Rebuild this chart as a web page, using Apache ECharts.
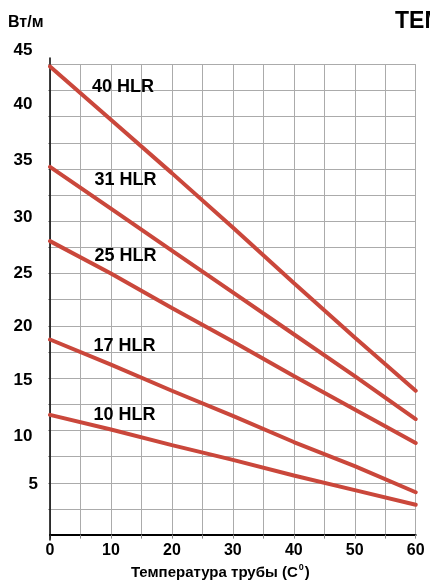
<!DOCTYPE html>
<html><head><meta charset="utf-8">
<script src="https://cdn.jsdelivr.net/npm/echarts@6/dist/echarts.min.js"></script>
<style>html,body{margin:0;padding:0;background:#fff}#c{width:430px;height:585px}</style>
</head><body><div id="c"></div>
<script>
// ---- data ----
const temps = [0, 10, 20, 30, 40, 50, 60];
const hlr40 = [44.8, 39.7, 34.6, 29.4, 24.1, 18.9, 13.8];
const hlr31 = [35.2, 31.2, 27.2, 23.2, 19.2, 15.2, 11.1];
const hlr25 = [28.1, 25.0, 21.7, 18.5, 15.2, 12.0, 8.8];
const hlr17 = [18.7, 16.3, 13.8, 11.4, 8.9, 6.6, 4.1];
const hlr10 = [11.5, 10.1, 8.6, 7.2, 5.7, 4.3, 2.9];
const seriesNames = ['40 HLR', '31 HLR', '25 HLR', '17 HLR', '10 HLR'];
const yTickLabels = [5, 10, 15, 20, 25, 30, 35, 40, 45];
const xTickLabels = [0, 10, 20, 30, 40, 50, 60];
const yUnit = 'Вт/м';
const xTitle = 'Температура трубы (С';
const topTitle = 'ТЕМПЕРАТУРНЫЕ ХАРАКТЕРИСТИКИ';

// ---- styling ----
const FONT = 'Liberation Sans, Arial, Helvetica, sans-serif';
const RED = '#ca473b';
const GRID = '#ababab';

const allSeries = [hlr40, hlr31, hlr25, hlr17, hlr10];

// per-label vertical nudges (label placement of the original)
const yLabelPad = {
  45: [0, 5.5, 28.6, 0], 40: [0, 5.5, 25, 0], 35: [0, 5.5, 16.6, 0],
  30: [0, 5.5, 8, 0], 25: [0, 5.5, 0, 0], 20: [0, 5.5, 0, 0],
  15: [4.8, 5.5, 0, 0], 10: [11.4, 5.5, 0, 0], 5: [2.2, 0, 0, 0]
};
const yRich = {};
yTickLabels.forEach(v => {
  yRich['s' + v] = {fontSize: 17, fontWeight: 'bold', fontFamily: FONT, color: '#000',
                    padding: yLabelPad[v], lineHeight: 19};
});

const chart = echarts.init(document.getElementById('c'), null, {renderer: 'canvas'});

const labelPos = [
  [92, 87], [94.5, 180.5], [94.5, 256], [93.5, 346], [93.5, 415]
];

chart.setOption({
  animation: false,
  backgroundColor: '#fff',
  grid: [
    {left: 50, right: 14.3, top: 64.3, bottom: 76},
    {left: 50, right: 14.3, top: 64.3, bottom: 45},
    {left: 50, right: 14.3, top: 58, bottom: 45}
  ],
  xAxis: [
    {gridIndex: 0, type: 'value', min: 0, max: 60, show: false},
    {gridIndex: 1, type: 'value', min: 0, max: 60, interval: 5,
     axisLine: {show: true, lineStyle: {color: '#000', width: 2}},
     axisTick: {show: true, length: 4, lineStyle: {color: '#888'}},
     splitLine: {show: true, lineStyle: {color: GRID, width: 1}},
     axisLabel: {margin: 8, color: '#000', fontSize: 16, fontWeight: 'bold', fontFamily: FONT,
       formatter: v => (xTickLabels.indexOf(v) >= 0 ? String(v) : '')},
     name: '{n|' + xTitle + '}{sup|0}{n|)}',
     nameLocation: 'middle', nameGap: 27,
     nameTextStyle: {
       padding: [0, 25, 0, 0],
       rich: {
         n: {fontSize: 15, fontWeight: 'bold', fontFamily: FONT, color: '#000'},
         sup: {fontSize: 9, fontWeight: 'bold', fontFamily: FONT, color: '#000', padding: [0, 1, 9, 1]}
       }
     }
    },
    {gridIndex: 2, type: 'value', min: 0, max: 1, show: false}
  ],
  yAxis: [
    {gridIndex: 0, type: 'value', min: 2.5, max: 45, interval: 2.5,
     axisLine: {show: false},
     axisTick: {show: true, length: 2, lineStyle: {color: GRID}},
     splitLine: {show: true, lineStyle: {color: GRID, width: 1}},
     axisLabel: {margin: 12, rich: yRich,
       formatter: v => (yTickLabels.indexOf(v) >= 0 ? '{s' + v + '|' + v + '}' : '')}
    },
    {gridIndex: 1, type: 'value', min: 0, max: 1, show: false},
    {gridIndex: 2, type: 'value', min: 0, max: 1, z: 5,
     axisLine: {show: true, lineStyle: {color: '#000', width: 1.5}},
     axisTick: {show: false}, axisLabel: {show: false}, splitLine: {show: false}}
  ],
  series: allSeries.map((arr, i) => ({
    name: seriesNames[i],
    type: 'line',
    xAxisIndex: 0, yAxisIndex: 0,
    data: temps.map((t, k) => [t, arr[k]]),
    showSymbol: false, symbol: 'none',
    smooth: false, clip: false,
    lineStyle: {color: RED, width: 4, cap: 'round'},
    z: 10
  })),
  graphic: [
    {type: 'text', x: 8, y: 22.5, z: 20,
     style: {text: yUnit, font: 'bold 16px ' + FONT, fill: '#000', align: 'left', verticalAlign: 'middle'}},
    {type: 'text', x: 395, y: 22, z: 20,
     style: {text: topTitle, font: 'bold 23px ' + FONT, fill: '#000', align: 'left', verticalAlign: 'middle'}}
  ].concat(seriesNames.map((nm, i) => ({
    type: 'text', x: labelPos[i][0], y: labelPos[i][1], z: 20,
    style: {text: nm, font: 'bold 18px ' + FONT, fill: '#000', align: 'left', verticalAlign: 'middle'}
  })))
});
</script>
</body></html>
